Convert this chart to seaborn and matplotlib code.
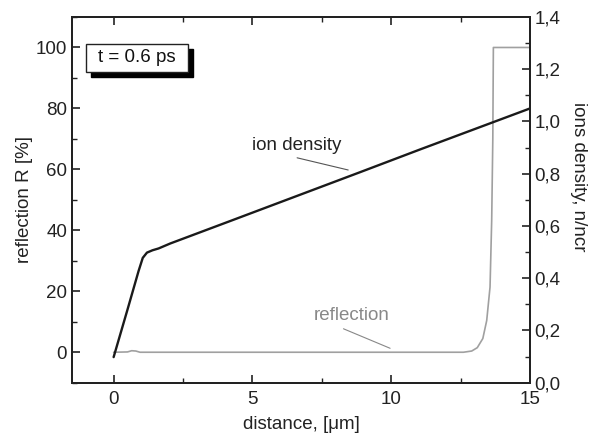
import numpy as np
import pandas as pd
import matplotlib
matplotlib.use("Agg")
import matplotlib.pyplot as plt
import seaborn as sns
from matplotlib.patches import Rectangle
from matplotlib.ticker import MultipleLocator, FuncFormatter

# reflection R [%] vs distance (left axis)
refl_x = [0.0, 0.5, 0.65, 0.8, 0.95, 12.6, 12.9, 13.1, 13.3, 13.44, 13.56, 13.62, 13.66, 13.68, 15.0]
refl_y = [0.0, 0.1, 0.5, 0.4, 0.0, 0.0, 0.4, 1.5, 4.5, 10.4, 21.4, 43.4, 70.0, 100.0, 100.0]

# ion density n/ncr vs distance (right axis)
ion_x = [0.0, 0.5, 0.9, 1.05, 1.2, 1.4, 1.62, 2.04, 4.2, 8.88, 11.04, 15.0]
ion_y = [0.098, 0.280, 0.428, 0.478, 0.498, 0.507, 0.514, 0.533, 0.619, 0.806, 0.893, 1.05]

x_ticks = [0, 5, 10, 15]
left_ticks = [0, 20, 40, 60, 80, 100]
right_ticks = [0.0, 0.2, 0.4, 0.6, 0.8, 1.0, 1.2, 1.4]

sns.set_style("ticks")
plt.rcParams["font.family"] = ["Liberation Sans", "DejaVu Sans"]
fs = 13.5

fig = plt.figure(figsize=(5.91, 4.36), dpi=100)
ax = fig.add_axes([0.1218, 0.1222, 0.775, 0.8388])
ax2 = ax.twinx()

refl = pd.DataFrame({"x": refl_x, "y": refl_y})
ion = pd.DataFrame({"x": ion_x, "y": ion_y})

sns.lineplot(data=refl, x="x", y="y", ax=ax, color="#a0a0a0", linewidth=1.2, sort=False)
sns.lineplot(data=ion, x="x", y="y", ax=ax2, color="#1a1a1a", linewidth=1.7, sort=False)

ax.set_xlim(-1.5, 15)
ax.set_ylim(-10, 110)
ax2.set_ylim(0, 1.4)

ax.set_xticks(x_ticks)
ax.set_yticks(left_ticks)
ax2.set_yticks(right_ticks)
ax.xaxis.set_minor_locator(MultipleLocator(2.5))
ax.yaxis.set_minor_locator(MultipleLocator(10))
ax2.yaxis.set_minor_locator(MultipleLocator(0.1))
ax2.yaxis.set_major_formatter(FuncFormatter(lambda v, _: f"{v:.1f}".replace(".", ",")))

ax.tick_params(axis="x", which="both", direction="in", top=True, colors="#222222", labelsize=fs, pad=6)
ax.tick_params(axis="y", which="both", direction="in", right=False, colors="#222222", labelsize=fs)
ax.tick_params(which="major", length=6, width=1.2)
ax.tick_params(which="minor", length=3.5, width=1.0)
ax2.tick_params(axis="y", which="both", direction="in", colors="#222222", labelsize=fs, pad=3)
ax2.tick_params(which="major", length=6, width=1.2)
ax2.tick_params(which="minor", length=3.5, width=1.0)

for a in (ax, ax2):
    for s in a.spines.values():
        s.set_linewidth(1.4)
        s.set_color("#222222")

ax.set_xlabel("distance, [\u03bcm]", fontsize=fs, color="#222222", labelpad=6)
ax.set_ylabel("reflection R [%]", fontsize=fs, color="#222222", labelpad=2)
ax2.set_ylabel("ions density, n/ncr", fontsize=fs, color="#222222", rotation=270, labelpad=15)
ax2.yaxis.set_label_coords(1.125, 0.5625)

# curve labels with leader lines
ax.text(6.58, 68.0, "ion density", fontsize=fs, color="#222222", ha="center", va="center")
ax.plot([6.61, 8.45], [63.8, 59.8], color="#555555", linewidth=0.8)
ax.text(8.56, 12.0, "reflection", fontsize=fs, color="#888888", ha="center", va="center")
ax.plot([8.28, 9.96], [7.7, 1.3], color="#888888", linewidth=0.8)

# time box with shadow
ax.add_patch(Rectangle((0.0415, 0.836), 0.2227, 0.0766, transform=ax.transAxes,
                       facecolor="black", edgecolor="black", zorder=5))
ax.add_patch(Rectangle((0.0306, 0.8496), 0.2227, 0.0766, transform=ax.transAxes,
                       facecolor="white", edgecolor="#222222", linewidth=1.0, zorder=6))
ax.text(0.142, 0.888, "t = 0.6 ps", transform=ax.transAxes, fontsize=fs,
        color="#111111", ha="center", va="center", zorder=7)

fig.savefig("out.png", dpi=100)
